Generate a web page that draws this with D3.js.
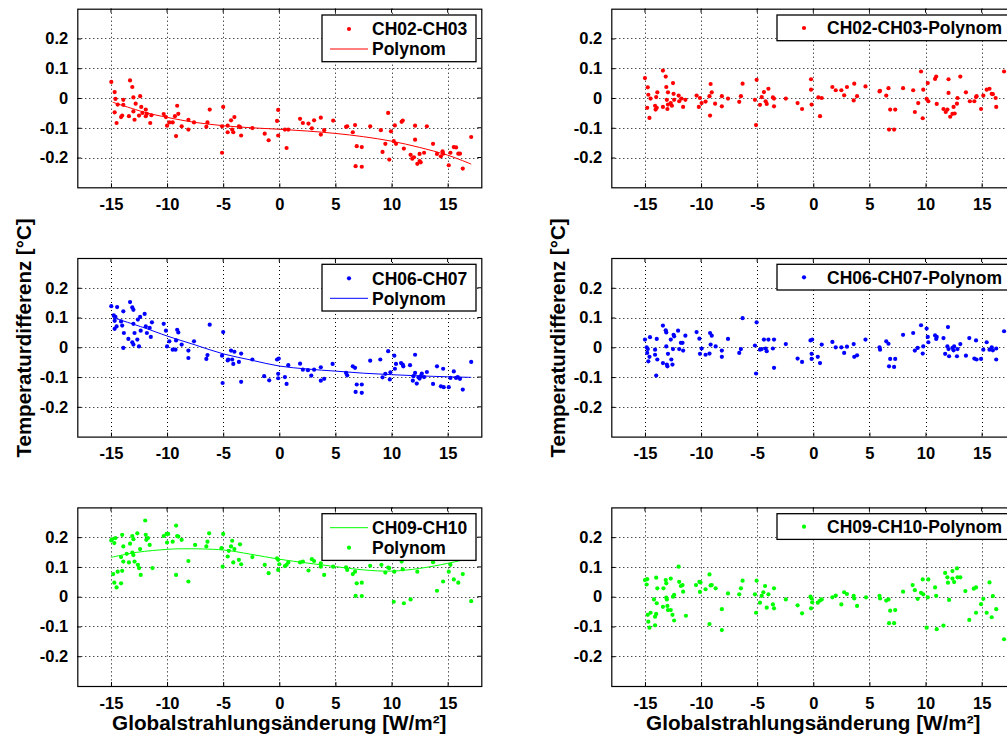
<!DOCTYPE html>
<html><head><meta charset="utf-8">
<script src="https://cdn.jsdelivr.net/npm/d3@7"></script>
<style>
html,body{margin:0;padding:0;background:#fff;overflow:hidden;}
text{font-family:"Liberation Sans",Arial,sans-serif;font-weight:bold;fill:#000;}
</style></head>
<body>
<svg id="chart" width="1007" height="738"></svg>
<script>
// ---------- data ----------
const xTicks = [-15, -10, -5, 0, 5, 10, 15];
const yTicks = [-0.2, -0.1, 0, 0.1, 0.2];
const xDomain = [-18, 18];
const yDomain = [-0.3, 0.3];
const xLabel = "Globalstrahlungsänderung [W/m²]";
const yLabel = "Temperaturdifferenz [°C]";

const ch0203 = [[-14.97,0.054],[-14.67,0.020],[-14.6,-0.003],[-14.67,-0.048],[-14.5,-0.084],[-14.4,-0.022],[-14.1,-0.064],[-14.0,-0.059],[-13.9,-0.023],[-13.9,-0.006],[-13.3,0.059],[-13.1,0.037],[-13.0,0.002],[-13.4,-0.061],[-13.0,-0.045],[-12.9,-0.073],[-12.8,-0.019],[-12.5,-0.059],[-12.4,0.006],[-12.3,-0.030],[-12.2,-0.050],[-11.9,-0.039],[-11.9,-0.061],[-11.8,-0.053],[-11.5,-0.084],[-11.4,-0.058],[-10.3,-0.054],[-10.1,-0.064],[-10.0,-0.093],[-9.8,-0.082],[-9.5,-0.082],[-9.3,-0.061],[-9.1,-0.026],[-9.0,-0.053],[-9.2,-0.128],[-8.7,-0.095],[-8.1,-0.073],[-8.1,-0.106],[-7.6,-0.082],[-6.5,-0.097],[-6.4,-0.082],[-6.2,-0.039],[-5.1,-0.095],[-5.0,-0.030],[-5.1,-0.184],[-4.6,-0.115],[-4.6,-0.093],[-4.3,-0.075],[-4.2,-0.106],[-4.1,-0.115],[-4.0,-0.064],[-3.6,-0.095],[-3.5,-0.098],[-3.4,-0.126],[-2.4,-0.101],[-1.3,-0.120],[-0.95,-0.142],[-0.2,-0.077],[-0.1,-0.040],[-0.1,-0.126],[0.5,-0.106],[0.65,-0.168],[0.8,-0.106],[1.85,-0.070],[2.1,-0.084],[2.6,-0.086],[2.9,-0.102],[3.1,-0.075],[3.7,-0.066],[3.7,-0.123],[4.0,-0.108],[4.8,-0.076],[5.95,-0.097],[6.05,-0.095],[6.55,-0.115],[6.75,-0.091],[6.9,-0.162],[6.8,-0.229],[7.35,-0.165],[7.35,-0.231],[8.1,-0.095],[9.05,-0.108],[9.2,-0.181],[9.45,-0.154],[9.7,-0.050],[9.8,-0.207],[9.95,-0.112],[10.2,-0.145],[10.3,-0.092],[10.4,-0.154],[10.9,-0.080],[11.0,-0.076],[11.1,-0.170],[11.7,-0.191],[12.0,-0.199],[11.85,-0.204],[12.1,-0.140],[12.1,-0.093],[12.3,-0.221],[12.5,-0.212],[12.6,-0.216],[12.5,-0.188],[12.9,-0.184],[13.15,-0.095],[13.7,-0.154],[14.05,-0.188],[14.4,-0.196],[14.55,-0.179],[14.6,-0.187],[15.1,-0.226],[15.25,-0.184],[15.55,-0.165],[15.75,-0.166],[15.95,-0.187],[16.1,-0.187],[16.35,-0.237],[17.1,-0.131]];
const ch0203Poly = [[-14.85,-0.014],[-12,-0.048],[-10,-0.065],[-7.5,-0.082],[-5,-0.093],[-2.5,-0.100],[0,-0.105],[2.5,-0.111],[5,-0.119],[7.5,-0.130],[10,-0.145],[12.5,-0.166],[15,-0.192],[17.1,-0.222]];
const ch0203Res = [[-15.0,0.067],[-14.75,0.036],[-14.7,0.011],[-14.8,-0.033],[-14.6,-0.067],[-14.5,-0.002],[-14.1,-0.026],[-14.05,-0.039],[-14.0,0.003],[-13.95,-0.033],[-13.9,0.019],[-13.4,0.092],[-13.4,-0.030],[-13.15,0.072],[-13.1,0.037],[-13.05,-0.006],[-13.0,-0.037],[-12.95,-0.022],[-12.95,0.019],[-12.7,-0.017],[-12.6,-0.026],[-12.5,0.050],[-12.45,0.014],[-12.4,-0.006],[-12.0,0.008],[-11.95,-0.011],[-11.75,-0.002],[-11.6,-0.030],[-11.4,-0.006],[-10.4,0.008],[-10.2,-0.030],[-10.1,0],[-9.95,-0.017],[-9.6,-0.012],[-9.25,0.006],[-9.2,-0.059],[-9.15,0.047],[-9.05,0.019],[-8.75,-0.019],[-8.15,0.006],[-8.15,-0.028],[-7.6,-0.002],[-6.6,-0.013],[-6.45,0.006],[-6.3,0.048],[-5.2,-0.006],[-5.1,-0.091],[-5.05,0.061],[-4.75,-0.023],[-4.6,0.003],[-4.4,0.020],[-4.25,-0.011],[-4.15,-0.020],[-4.0,0.031],[-3.6,0.002],[-3.5,-0.002],[-3.5,-0.028],[-2.45,-0.002],[-1.4,-0.017],[-1.0,-0.037],[-0.2,0.063],[-0.2,0.028],[-0.15,-0.022],[0.45,0.002],[0.6,-0.061],[0.75,0],[1.7,0.037],[2.0,0.026],[2.5,0.026],[2.75,0.009],[3.0,0.037],[3.6,-0.008],[3.65,0.048],[3.9,0.006],[4.65,0.039],[5.9,0.022],[5.95,0.024],[6.5,0.008],[6.7,0.033],[6.75,-0.106],[6.85,-0.039],[7.2,-0.106],[7.3,-0.039],[8.0,0.033],[8.9,0.026],[9.05,-0.047],[9.35,-0.017],[9.6,0.089],[9.75,-0.068],[9.8,0.028],[10.1,-0.003],[10.2,0.050],[10.25,-0.011],[10.85,0.064],[10.95,0.072],[11.0,-0.020],[11.6,-0.037],[11.8,-0.047],[11.95,-0.039],[12.05,0.063],[12.05,0.017],[12.2,-0.063],[12.4,-0.053],[12.5,-0.030],[12.6,-0.052],[12.8,-0.019],[12.85,0],[13.1,0.072],[13.6,0.019],[13.95,-0.011],[14.35,-0.011],[14.5,0.003],[14.55,0.006],[14.95,-0.037],[15.15,0.008],[15.45,0.028],[15.7,0.031],[15.9,0.014],[16.0,0.013],[16.25,0],[16.3,-0.030],[17.0,0.089]];

const ch0607 = [[-14.97,0.138],[-14.75,0.107],[-14.67,0.089],[-14.6,0.102],[-14.67,0.062],[-14.5,0.070],[-14.45,0.135],[-14.1,0.087],[-14.0,0.073],[-13.9,-0.002],[-13.9,0.121],[-13.85,0.048],[-13.45,0.028],[-13.3,0.152],[-13.1,0.134],[-13.0,0.126],[-13.1,0.017],[-13.0,0.009],[-13.0,0.079],[-12.9,0.048],[-12.65,0.026],[-12.6,0.093],[-12.5,0.003],[-12.4,0.102],[-12.35,0.056],[-12.0,0.112],[-11.9,0.070],[-11.8,0.048],[-11.55,0.065],[-11.45,0.035],[-11.35,0.084],[-10.3,0.079],[-10.1,0.056],[-10.0,0.003],[-9.8,0.020],[-9.5,-0.008],[-9.25,-0.008],[-9.1,0.059],[-9.0,0.050],[-8.7,0.009],[-9.2,0.023],[-8.1,-0.011],[-8.1,-0.036],[-7.6,0.020],[-6.5,-0.039],[-6.4,-0.026],[-6.2,0.076],[-5.1,-0.028],[-5.0,0.051],[-5.05,-0.120],[-4.6,-0.044],[-4.55,-0.041],[-4.3,-0.011],[-4.2,-0.041],[-4.1,-0.056],[-4.0,-0.015],[-3.6,-0.049],[-3.4,-0.021],[-3.4,-0.116],[-2.4,-0.041],[-1.35,-0.097],[-0.9,-0.111],[-0.2,-0.041],[-0.1,-0.089],[-0.05,-0.038],[-0.1,-0.104],[0.5,-0.100],[0.65,-0.123],[0.8,-0.060],[1.85,-0.055],[2.1,-0.075],[2.55,-0.077],[2.85,-0.095],[3.1,-0.075],[3.7,-0.067],[3.7,-0.112],[4.0,-0.106],[4.75,-0.056],[5.95,-0.086],[6.05,-0.094],[6.55,-0.064],[6.75,-0.069],[6.9,-0.125],[6.8,-0.150],[7.35,-0.125],[7.35,-0.153],[8.1,-0.045],[9.0,-0.041],[9.2,-0.101],[9.45,-0.089],[9.7,-0.013],[9.85,-0.108],[9.9,-0.084],[10.25,-0.028],[10.3,-0.072],[10.4,-0.056],[10.85,-0.053],[11.0,-0.058],[11.05,-0.064],[11.65,-0.060],[11.9,-0.112],[11.95,-0.097],[12.1,-0.025],[12.1,-0.086],[12.25,-0.122],[12.4,-0.101],[12.5,-0.105],[12.6,-0.097],[12.7,-0.088],[12.9,-0.100],[13.15,-0.083],[13.7,-0.123],[14.05,-0.064],[14.4,-0.131],[14.6,-0.072],[14.65,-0.134],[15.1,-0.134],[15.25,-0.103],[15.55,-0.081],[15.75,-0.103],[15.9,-0.100],[16.1,-0.106],[16.35,-0.142],[17.1,-0.049]];
const ch0607Poly = [[-14.85,0.100],[-12,0.065],[-10,0.038],[-7.5,0.008],[-5,-0.022],[-2.5,-0.043],[0,-0.063],[2.5,-0.073],[5,-0.080],[7.5,-0.087],[10,-0.092],[12.5,-0.096],[15,-0.099],[17.1,-0.101]];
const ch0607Res = [[-15.0,0.026],[-14.85,0],[-14.8,-0.019],[-14.75,-0.006],[-14.7,-0.047],[-14.6,-0.032],[-14.55,0.034],[-14.1,-0.008],[-14.1,-0.025],[-14.0,-0.095],[-13.95,0.028],[-13.9,-0.041],[-13.4,0.073],[-13.4,-0.053],[-13.15,0.057],[-13.1,0.050],[-13.1,0.003],[-13.05,-0.058],[-13.0,-0.064],[-12.95,-0.022],[-12.7,0.026],[-12.65,-0.041],[-12.55,-0.058],[-12.5,-0.006],[-12.45,0.042],[-12.4,0.037],[-12.05,0.056],[-11.95,-0.006],[-11.8,0.015],[-11.65,0.015],[-11.6,-0.011],[-11.4,0.039],[-10.4,0.051],[-10.15,0.029],[-10.1,-0.022],[-9.95,-0.004],[-9.6,-0.025],[-9.25,-0.021],[-9.2,0.048],[-9.15,0.009],[-9.05,0.039],[-8.7,0.003],[-8.15,-0.011],[-8.15,-0.032],[-7.6,0.028],[-6.6,-0.019],[-6.45,-0.006],[-6.3,0.098],[-5.2,0.006],[-5.1,-0.088],[-5.05,0.084],[-4.75,-0.008],[-4.6,-0.006],[-4.4,0.026],[-4.25,-0.004],[-4.15,-0.013],[-4.0,0.026],[-3.6,-0.004],[-3.5,0.026],[-3.5,-0.069],[-2.45,0.011],[-1.4,-0.038],[-1.0,-0.049],[-0.25,0.023],[-0.15,-0.039],[-0.15,-0.022],[-0.1,0.026],[0.4,-0.032],[0.6,-0.053],[0.75,0.009],[1.7,0.018],[2.0,0],[2.5,0],[2.75,-0.019],[3.0,0.002],[3.6,0.011],[3.65,-0.032],[3.9,-0.027],[4.65,0.026],[5.9,0],[5.95,-0.008],[6.5,0.020],[6.7,0.012],[6.75,-0.064],[6.85,-0.039],[7.2,-0.066],[7.3,-0.039],[8.0,0.042],[8.9,0.048],[9.05,-0.011],[9.3,-0.002],[9.6,0.074],[9.75,-0.021],[9.8,0.003],[10.1,0.063],[10.2,0.035],[10.25,0.017],[10.85,0.040],[10.95,0.028],[11.0,0.035],[11.6,0.031],[11.75,-0.022],[11.95,0.003],[12.0,0.068],[12.05,-0.006],[12.1,-0.030],[12.4,-0.002],[12.5,-0.010],[12.55,0.003],[12.8,-0.030],[12.85,-0.006],[13.1,0.011],[13.6,-0.028],[13.9,0.031],[14.35,-0.038],[14.5,0.023],[14.55,-0.041],[14.95,-0.039],[15.15,-0.008],[15.45,0.017],[15.7,-0.008],[15.9,0],[16.0,-0.010],[16.3,-0.004],[16.3,-0.041],[17.0,0.054]];

const ch0910 = [[-14.97,0.189],[-14.9,0.193],[-14.7,0.180],[-14.8,0.076],[-14.7,0.047],[-14.5,0.031],[-14.4,0.084],[-14.6,0.197],[-14.1,0.133],[-14.1,0.045],[-14.0,0.208],[-13.9,0.169],[-14.0,0.087],[-13.9,0.118],[-13.6,0.144],[-13.3,0.178],[-13.4,0.115],[-13.1,0.204],[-13.0,0.193],[-13.1,0.148],[-13.0,0.140],[-12.9,0.118],[-12.65,0.213],[-12.6,0.107],[-12.5,0.096],[-12.4,0.160],[-12.35,0.073],[-11.95,0.256],[-11.9,0.208],[-11.85,0.191],[-11.7,0.197],[-11.55,0.174],[-11.3,0.096],[-10.3,0.204],[-10.05,0.211],[-10.0,0.182],[-9.9,0.211],[-9.5,0.185],[-9.2,0.073],[-9.2,0.239],[-9.1,0.204],[-9.0,0.202],[-8.7,0.191],[-8.1,0.120],[-8.1,0.051],[-7.5,0.174],[-6.5,0.169],[-6.4,0.185],[-6.25,0.213],[-5.15,0.163],[-5.0,0.211],[-5.05,0.101],[-4.6,0.135],[-4.5,0.154],[-4.3,0.169],[-4.2,0.188],[-4.1,0.115],[-4.0,0.160],[-3.6,0.124],[-3.5,0.176],[-3.4,0.109],[-2.4,0.133],[-1.3,0.107],[-0.95,0.079],[-0.2,0.129],[-0.1,0.124],[-0.1,0.090],[0,0.109],[0.5,0.103],[0.65,0.107],[0.8,0.115],[1.85,0.115],[2.1,0.118],[2.6,0.088],[2.9,0.126],[3.1,0.120],[3.7,0.112],[3.7,0.101],[4.0,0.073],[4.8,0.101],[5.95,0.099],[6.05,0.090],[6.55,0.076],[6.75,0.084],[6.9,0.045],[6.8,0.003],[7.35,0.047],[7.35,0.002],[8.1,0.104],[9.1,0.107],[9.45,0.081],[9.7,0.098],[9.8,0.096],[10.2,-0.017],[10.25,0.084],[10.9,0.118],[11.0,0.092],[11.1,-0.022],[11.7,-0.009],[11.75,0.170],[11.95,0.158],[12.3,0.084],[12.4,0.178],[12.55,0.146],[12.8,0.188],[13.1,0.160],[13.7,0.116],[14.05,0.020],[14.6,0.051],[15.1,0.084],[15.25,0.107],[15.55,0.058],[15.95,0.047],[16.35,0.076],[17.1,-0.015]];
const ch0910Poly = [[-15,0.132],[-12.7,0.149],[-10,0.159],[-8.6,0.161],[-5,0.157],[-2.6,0.143],[0,0.126],[2.5,0.113],[5,0.101],[7.5,0.090],[10,0.086],[12.5,0.095],[15,0.112],[17,0.129]];
const ch0910Res = [[-15,0.056],[-14.8,0.059],[-14.85,0.041],[-14.75,-0.061],[-14.7,-0.084],[-14.6,-0.104],[-14.5,-0.054],[-14.2,-0.009],[-14.1,-0.067],[-14.1,-0.096],[-14.0,0.064],[-13.9,0.028],[-13.95,-0.022],[-14.0,-0.058],[-13.4,-0.034],[-13.35,0.028],[-13.15,0.056],[-13.1,0.045],[-13.1,-0.003],[-13.05,-0.009],[-12.95,-0.045],[-13.0,-0.031],[-12.7,0.061],[-12.7,-0.045],[-12.55,-0.061],[-12.5,0],[-12.4,0.006],[-12.4,-0.080],[-12.0,0.101],[-11.95,0.050],[-11.8,0.036],[-11.65,0.039],[-11.6,0.017],[-11.35,-0.064],[-10.45,0.039],[-10.15,0.050],[-10.05,0.048],[-10.1,0.016],[-9.6,0.025],[-9.25,0.075],[-9.25,-0.092],[-9.15,0.038],[-9.05,0.039],[-8.7,0.028],[-8.15,-0.042],[-8.15,-0.112],[-7.6,0.011],[-6.6,0.008],[-6.45,0.028],[-6.3,0.054],[-5.2,0.008],[-5.1,-0.054],[-5.05,0.054],[-4.75,-0.020],[-4.6,0.003],[-4.45,0.015],[-4.3,0.036],[-4.15,-0.037],[-4.0,0.008],[-3.6,-0.026],[-3.5,0.028],[-3.5,-0.039],[-2.45,-0.009],[-1.4,-0.029],[-1.0,-0.056],[-0.25,0],[-0.2,-0.039],[-0.15,-0.006],[-0.1,-0.019],[0.4,-0.020],[0.6,-0.013],[0.75,-0.009],[1.7,-0.002],[2.0,0.004],[2.5,-0.026],[2.75,0.015],[3.0,0.009],[3.6,0.003],[3.65,-0.006],[3.9,-0.031],[4.7,-0.002],[5.9,0.003],[5.95,-0.006],[6.5,-0.013],[6.7,-0.009],[6.75,-0.089],[6.85,-0.047],[7.2,-0.089],[7.3,-0.045],[8.0,0.017],[8.85,0.039],[9.05,0.022],[9.3,-0.007],[9.6,0.013],[9.75,0.058],[9.8,0.008],[10.1,-0.104],[10.2,-0.002],[10.25,0.058],[10.85,0.031],[10.95,0.003],[11.0,-0.109],[11.6,-0.097],[11.75,0.080],[11.95,0.065],[12.0,0.047],[12.1,-0.011],[12.4,0.086],[12.4,0.061],[12.55,0.049],[12.8,0.095],[12.85,0.065],[13.1,0.065],[13.55,0.019],[13.9,-0.078],[14.3,0.027],[14.5,0.031],[14.5,-0.054],[14.95,-0.025],[15.15,-0.007],[15.45,-0.054],[15.7,0.048],[15.9,-0.069],[16.0,0.002],[16.3,-0.042],[17.0,-0.143]];

const colors = {red:"#ff0000", blue:"#0000ff", green:"#00ff00"};

// ---------- layout ----------
const rowTops = [8.7, 258.0, 507.4];
const colLefts = [77.3, 611.3];
const plotW = 404, plotH = 178.6;

const panels = [
  {row:0,col:0,pts:ch0203,poly:ch0203Poly,color:colors.red,
   legend:[{t:"dot",label:"CH02-CH03"},{t:"line",label:"Polynom"}]},
  {row:0,col:1,pts:ch0203Res,color:colors.red,legend:[{t:"dot",label:"CH02-CH03-Polynom"}]},
  {row:1,col:0,pts:ch0607,poly:ch0607Poly,color:colors.blue,
   legend:[{t:"dot",label:"CH06-CH07"},{t:"line",label:"Polynom"}]},
  {row:1,col:1,pts:ch0607Res,color:colors.blue,legend:[{t:"dot",label:"CH06-CH07-Polynom"}]},
  {row:2,col:0,pts:ch0910,poly:ch0910Poly,color:colors.green,
   legend:[{t:"line",label:"CH09-CH10"},{t:"dot",label:"Polynom"}]},
  {row:2,col:1,pts:ch0910Res,color:colors.green,legend:[{t:"dot",label:"CH09-CH10-Polynom"}]}
];

const svg = d3.select("#chart");
svg.append("rect").attr("width",1007).attr("height",738).attr("fill","#fff");

panels.forEach(p => {
  const x0 = colLefts[p.col], y0 = rowTops[p.row];
  const x = d3.scaleLinear().domain(xDomain).range([x0, x0 + plotW]);
  const y = d3.scaleLinear().domain(yDomain).range([y0 + plotH, y0]);
  const g = svg.append("g");

  g.append("rect").attr("x",x0).attr("y",y0).attr("width",plotW).attr("height",plotH).attr("fill","#fff");

  // grid
  g.selectAll(".gx").data(xTicks).enter().append("line")
    .attr("x1",d=>Math.round(x(d))+0.5).attr("x2",d=>Math.round(x(d))+0.5)
    .attr("y1",y0).attr("y2",y0+plotH)
    .attr("stroke","#000").attr("stroke-width",1).attr("stroke-dasharray","1,3");
  g.selectAll(".gy").data(yTicks).enter().append("line")
    .attr("y1",d=>Math.round(y(d))+0.5).attr("y2",d=>Math.round(y(d))+0.5)
    .attr("x1",x0).attr("x2",x0+plotW)
    .attr("stroke","#000").attr("stroke-width",1).attr("stroke-dasharray","1,3");

  // axes
  const xAxis = d3.axisBottom(x).tickValues(xTicks).tickSize(-4).tickPadding(11).tickFormat(d=>String(d));
  const ax = g.append("g").attr("transform",`translate(0,${y0+plotH})`).call(xAxis);
  const yAxis = d3.axisLeft(y).tickValues(yTicks).tickSize(-4).tickPadding(9).tickFormat(d=>d===0?"0":String(d));
  const ay = g.append("g").attr("transform",`translate(${x0},0)`).call(yAxis);
  [ax, ay].forEach(a => {
    a.select(".domain").remove();
    a.selectAll("line").attr("stroke","#000");
    a.selectAll("text").style("font-size","16.5px").style("font-weight","bold")
      .style("font-family",'"Liberation Sans",Arial,sans-serif').attr("fill","#000");
  });
  // top/right ticks
  g.selectAll(".tt").data(xTicks).enter().append("line")
    .attr("x1",d=>x(d)).attr("x2",d=>x(d)).attr("y1",y0).attr("y2",y0+4).attr("stroke","#000");
  g.selectAll(".tr").data(yTicks).enter().append("line")
    .attr("y1",d=>y(d)).attr("y2",d=>y(d)).attr("x1",x0+plotW).attr("x2",x0+plotW-4).attr("stroke","#000");

  // polynomial curve
  if (p.poly) {
    g.append("path").datum(p.poly)
      .attr("d", d3.line().x(d=>x(d[0])).y(d=>y(d[1])).curve(d3.curveCatmullRom))
      .attr("fill","none").attr("stroke",p.color).attr("stroke-width",1);
  }
  // points
  g.selectAll(".pt").data(p.pts).enter().append("circle")
    .attr("cx",d=>x(d[0])).attr("cy",d=>y(d[1])).attr("r",2.1).attr("fill",p.color);

  // box
  g.append("rect").attr("x",x0+0.5).attr("y",y0+0.5).attr("width",plotW).attr("height",plotH)
    .attr("fill","none").attr("stroke","#000").attr("stroke-width",1.2);

  // legend
  const two = p.legend.length === 2;
  const lw = two ? 154 : 232, lh = two ? 46.7 : 25.7;
  const lx = two ? x0 + plotW - 5.3 - lw : 777 - 611.3 + x0;
  const ly = y0 + 6.3;
  const lg = g.append("g");
  lg.append("rect").attr("x",lx).attr("y",ly).attr("width",lw).attr("height",lh)
    .attr("fill","#fff").attr("stroke","#000").attr("stroke-width",1.3);
  p.legend.forEach((e,i) => {
    const cy = ly + (two ? 14 + i*20 : 13);
    if (e.t === "dot") {
      lg.append("circle").attr("cx",lx+27).attr("cy",cy).attr("r",2.1).attr("fill",p.color);
    } else {
      lg.append("line").attr("x1",lx+8).attr("x2",lx+46).attr("y1",cy).attr("y2",cy)
        .attr("stroke",p.color).attr("stroke-width",1);
    }
    lg.append("text").attr("x",lx+50).attr("y",cy+6.3).style("font-size","17.5px").text(e.label);
  });

  // x label
  if (p.row === 2) {
    g.append("text").attr("x",x0+plotW/2).attr("y",730).attr("text-anchor","middle")
      .style("font-size","20.7px").text(xLabel);
  }
  if (p.row === 1) {
    const lxp = x0 - 53;
    g.append("text").attr("transform",`translate(${lxp+7},338) rotate(-90)`)
      .attr("text-anchor","middle").style("font-size","20.5px").text(yLabel);
  }
});
</script>
</body></html>
